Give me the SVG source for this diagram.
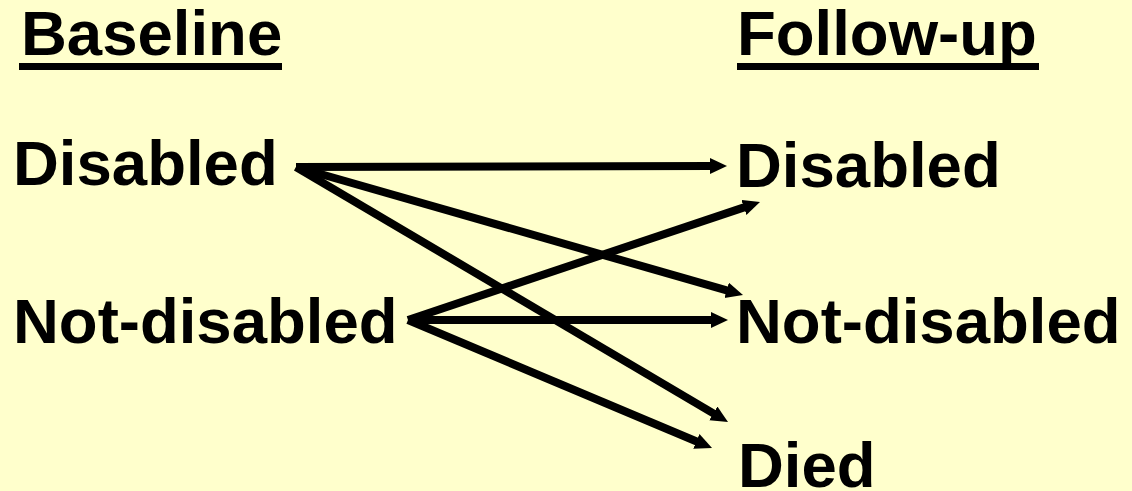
<svg xmlns="http://www.w3.org/2000/svg" width="1132" height="491" viewBox="0 0 1132 491">
<style>
.t{font-family:"Liberation Sans",Arial,sans-serif;font-weight:bold;font-size:63.5px;fill:#000}
.c line{stroke:#000;stroke-width:8;fill:none;marker-end:url(#ah)}
</style>
<defs>
<marker id="ah" markerUnits="userSpaceOnUse" markerWidth="18" markerHeight="18" refX="1" refY="8" orient="auto">
<path d="M0,0 L17,8 L0,16 z" fill="#000"/>
</marker>
</defs>
<rect width="1132" height="491" fill="#FFFFCC"/>
<g id="head-baseline">
<text class="t" x="21" y="55">Baseline</text>
<rect x="19" y="63" width="263" height="7" fill="#000"/>
</g>
<g id="head-followup">
<text class="t" x="737" y="55">Follow-up</text>
<rect x="737" y="63" width="302" height="7" fill="#000"/>
</g>
<g id="b-disabled"><text class="t" x="13" y="185">Disabled</text></g>
<g id="b-notdisabled"><text class="t" x="13" y="343">Not-disabled</text></g>
<g id="f-disabled"><text class="t" x="736" y="187">Disabled</text></g>
<g id="f-notdisabled"><text class="t" x="736" y="343">Not-disabled</text></g>
<g id="f-died"><text class="t" x="738" y="487">Died</text></g>
<g class="c" id="connectors">
<line x1="296" y1="167" x2="711" y2="166"/>
<line x1="296" y1="167" x2="727.6" y2="290.6"/>
<line x1="296" y1="167" x2="714.2" y2="413.9"/>
<line x1="408" y1="320" x2="744.8" y2="207.1"/>
<line x1="408" y1="320" x2="712" y2="320"/>
<line x1="408" y1="320" x2="697.3" y2="441.8"/>
</g>
</svg>
